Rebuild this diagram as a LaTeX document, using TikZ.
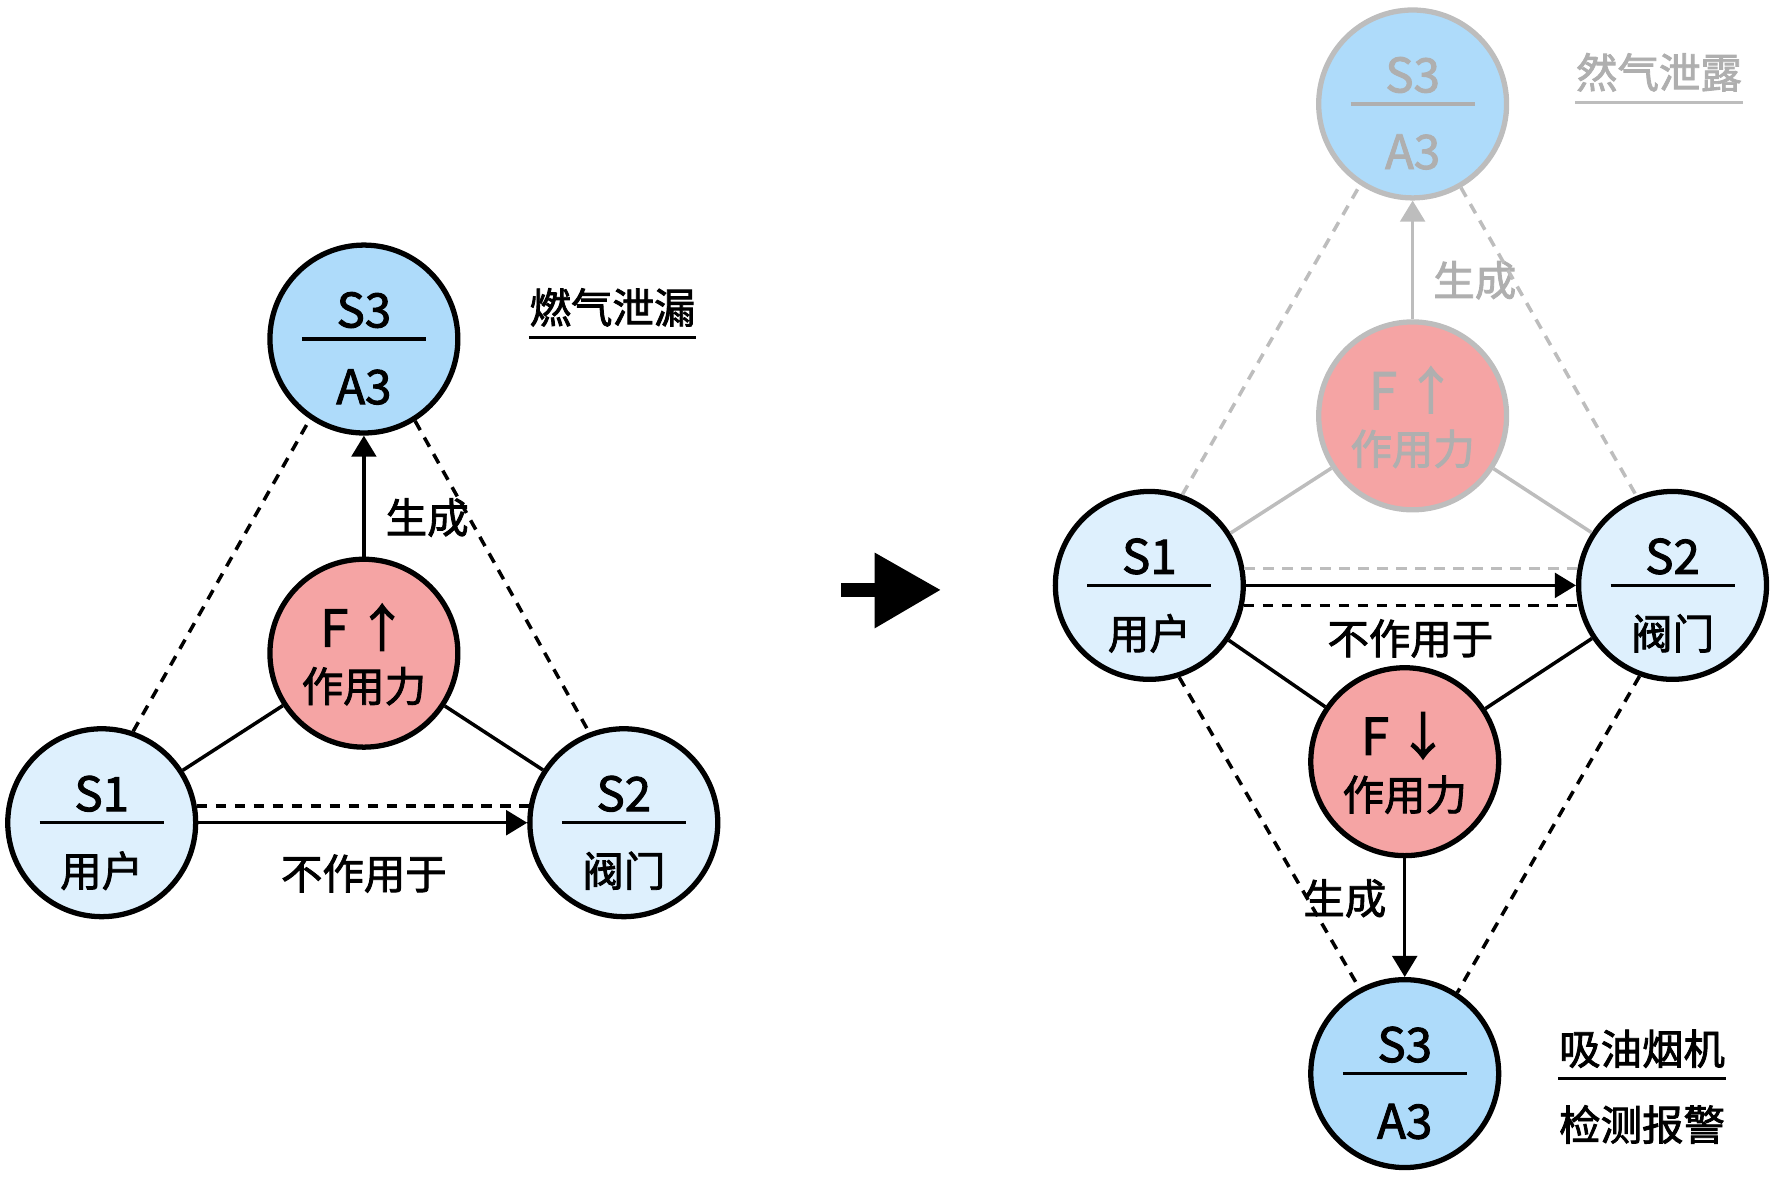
\documentclass[tikz,border=0pt]{standalone}
\usepackage{fontspec}
\setmainfont{Noto Sans CJK SC}[FakeBold=2]
\usetikzlibrary{arrows.meta}

\definecolor{sysblue}{RGB}{174,219,250}
\definecolor{syslight}{RGB}{222,240,253}
\definecolor{forcered}{RGB}{245,164,164}
\definecolor{fadegray}{RGB}{189,189,189}
\definecolor{fadetext}{RGB}{175,175,175}

\newcommand{\latinsize}{\fontsize{13.5}{16}\selectfont}
% inner texts of a circle: top, rule, bottom
\newcommand{\sysparts}[4]{%
  \node[txt,text=#4,font=\latinsize] (#1-top) at ([yshift=0.29cm]#1.center) {#2};
  \node[txt,text=#4] (#1-bot) at ([yshift=-0.48cm]#1.center) {#3};
  \draw[line width=0.9pt,#4] ([xshift=-0.62cm]#1.center) -- ([xshift=0.62cm]#1.center);}
\newcommand{\forceparts}[3]{%
  \node[txt,text=#3,font=\fontsize{14.5}{17}\selectfont] (#1-top) at ([yshift=0.26cm]#1.center) {#2};
  \node[txt,text=#3] (#1-bot) at ([yshift=-0.33cm]#1.center) {作用力};}

\begin{document}
\begin{tikzpicture}[x=0.0113cm,y=-0.0113cm,
  sys/.style={circle,draw,line width=1.5pt,minimum size=1.88cm,inner sep=0pt},
  faded/.style={draw=fadegray},
  txt/.style={inner sep=0pt,font=\fontsize{11.8}{14}\selectfont},
  conn/.style={line width=1pt},
  dash line/.style={conn,dash pattern=on 3pt off 2.4pt},
  arr/.style={conn,-{Triangle[length=6pt,width=7pt]}}]

\useasboundingbox (0,0) rectangle (1568,1041.6);

%left: before
\node[sys,fill=sysblue] (S3) at (322,300) {};
\node[sys,fill=forcered] (F) at (322,578) {};
\node[sys,fill=syslight] (S1) at (90,728) {};
\node[sys,fill=syslight] (S2) at (552,728) {};
\sysparts{S3}{S3}{\latinsize A3}{black}
\sysparts{S1}{S1}{用户}{black}
\sysparts{S2}{S2}{阀门}{black}
\forceparts{F}{F\,↑}{black}

\draw[dash line] (S1.71) -- (S3.236);
\draw[dash line] (S3.302) -- (S2.111);
\draw[conn] (F) -- (S1);
\draw[conn] (F) -- (S2);
\draw[arr] (F) -- (S3);
\draw[dash line] (S1.10) -- (S2.170);
\draw[arr] (S1) -- (S2);

\node[txt] (genL) at (378,458) {生成};
\node[txt] (noactL) at (322,773) {不作用于};
\node[txt] (leakL) at (542,272) {燃气泄漏};
\draw[conn] ([yshift=-0.1cm]leakL.south west) -- ([yshift=-0.1cm]leakL.south east);

%big arrow
\fill (744,516) rectangle (776,528);
\fill (774,489) -- (832,522) -- (774,556) -- cycle;

%right: after, faded part
\node[sys,faded,fill=sysblue] (S3g) at (1250,92) {};
\node[sys,faded,fill=forcered] (Fg) at (1250,368) {};
\sysparts{S3g}{S3}{\latinsize A3}{fadetext}
\forceparts{Fg}{F\,↑}{fadetext}
\node[txt,text=fadetext] (genG) at (1305,248) {生成};
\node[txt,text=fadetext] (leakG) at (1468,64) {然气泄露};
\draw[conn,fadegray] ([yshift=-0.1cm]leakG.south west) -- ([yshift=-0.1cm]leakG.south east);

\node[sys,fill=syslight] (S1R) at (1017,518) {};
\node[sys,fill=syslight] (S2R) at (1480,518) {};
\node[sys,fill=forcered] (FR) at (1243,674) {};
\node[sys,fill=sysblue] (S3R) at (1243,950) {};
\sysparts{S1R}{S1}{用户}{black}
\sysparts{S2R}{S2}{阀门}{black}
\sysparts{S3R}{S3}{\latinsize A3}{black}
\forceparts{FR}{F\,↓}{black}

\draw[dash line,fadegray] (S1R.70) -- (S3g.237);
\draw[dash line,fadegray] (S3g.300) -- (S2R.112);
\draw[conn,fadegray] (Fg) -- (S1R);
\draw[conn,fadegray] (Fg) -- (S2R);
\draw[arr,fadegray] (Fg) -- (S3g);
\draw[dash line,fadegray] (S1R.10) -- (S2R.170);

%right: after
\draw[arr] (S1R) -- (S2R);
\draw[dash line] (S1R.-12) -- (S2R.192);
\draw[conn] (FR) -- (S1R);
\draw[conn] (FR) -- (S2R);
\draw[arr] (FR) -- (S3R);
\draw[dash line] (S1R.288) -- (S3R.118);
\draw[dash line] (S2R.250) -- (S3R.57);

\node[txt] (noactR) at (1248,565) {不作用于};
\node[txt] (genR) at (1190,795) {生成};
\node[txt] (hoodR) at (1453,928) {吸油烟机};
\node[txt] (alarmR) at (1453,995) {检测报警};
\draw[conn] ([yshift=-0.1cm]hoodR.south west) -- ([yshift=-0.1cm]hoodR.south east);

\end{tikzpicture}
\end{document}
